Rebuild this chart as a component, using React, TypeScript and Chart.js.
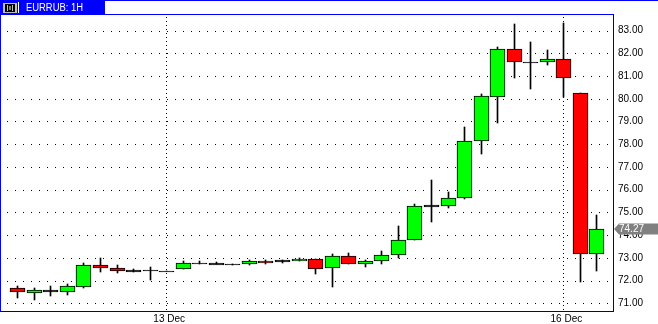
import React, { useEffect, useRef } from 'react';
import { Chart, registerables } from 'chart.js';

Chart.register(...registerables);

// Hourly candles, EURRUB 1H
const opens = [
  71.66, 71.45, 71.48, 71.50, 71.71, 72.69, 72.55, 72.47, 72.40, 72.42,
  72.51, 72.78, 72.78, 72.72, 72.72, 72.86, 72.81, 72.85, 72.96, 72.57,
  73.09, 72.74, 72.87, 73.13, 73.78, 75.24, 75.28, 75.63, 78.13, 80.06,
  82.18, 81.60, 81.60, 81.74, 80.24, 73.19,
];
const highs = [
  71.75, 71.68, 71.74, 71.84, 72.79, 73.01, 72.70, 72.51, 72.61, 72.42,
  72.85, 72.85, 72.82, 72.74, 72.91, 72.91, 72.91, 72.99, 72.96, 73.17,
  73.22, 72.91, 73.32, 74.41, 75.36, 76.41, 75.88, 78.76, 80.20, 82.28,
  83.29, 82.50, 82.15, 83.34, 80.24, 74.87,
];
const lows = [
  71.25, 71.15, 71.31, 71.36, 71.66, 72.36, 72.32, 72.38, 72.04, 72.42,
  72.51, 72.72, 72.71, 72.67, 72.67, 72.74, 72.76, 72.84, 72.27, 71.73,
  72.74, 72.59, 72.74, 73.00, 73.78, 74.58, 75.19, 75.57, 77.57, 78.94,
  80.93, 80.44, 81.49, 80.09, 71.94, 72.43,
];
const closes = [
  71.48, 71.57, 71.57, 71.74, 72.69, 72.55, 72.42, 72.39, 72.48, 72.42,
  72.79, 72.78, 72.70, 72.72, 72.86, 72.76, 72.89, 72.97, 72.50, 73.09,
  72.74, 72.87, 73.13, 73.78, 75.26, 75.33, 75.65, 78.13, 80.10, 82.18,
  81.60, 81.60, 81.74, 80.90, 73.19, 74.27,
];

const xTickIndex = [9, 33];
const xTickLabels = ['13 Dec', '16 Dec'];
const yTickValues = [71, 72, 73, 74, 75, 76, 77, 78, 79, 80, 81, 82, 83];
const titleText = 'EURRUB: 1H';
const lastPrice = 74.27;

const BULL = '#00FF00';
const BEAR = '#FF0000';
const FONT = "'Liberation Sans', Arial, sans-serif";

export default function App() {
  const ref = useRef<HTMLCanvasElement>(null);

  useEffect(() => {
    const canvas = ref.current;
    if (!canvas) return;
    const idx = opens.map((_, i) => i);
    const bodyData = idx.map((i) => ({ x: i, y: [opens[i], closes[i]] }));
    const wickData = idx.map((i) => ({ x: i, y: [lows[i], highs[i]] }));
    const bodyColors = idx.map((i) =>
      Math.abs(closes[i] - opens[i]) < 0.095 ? '#000000' : closes[i] >= opens[i] ? BULL : BEAR
    );

    const snapPlugin = {
      id: 'snap',
      beforeDatasetsDraw(chart: any) {
        chart.getDatasetMeta(0).data.forEach((el: any) => {
          el.x = Math.round(el.x) + 0.5;
          const y = Math.round(el.y);
          let b = Math.round(el.base);
          if (y === b) b = y + 1;
          el.y = y;
          el.base = b;
        });
        chart.getDatasetMeta(1).data.forEach((el: any) => {
          el.x = Math.round(el.x) + 0.5;
          el.y = Math.round(el.y);
          el.base = Math.round(el.base);
        });
      },
    };

    const gridPlugin = {
      id: 'dotgrid',
      beforeDatasetsDraw(chart: any) {
        const { ctx, chartArea: a, scales } = chart;
        ctx.save();
        ctx.fillStyle = '#000';
        yTickValues.forEach((v) => {
          const py = Math.round(scales.y.getPixelForValue(v));
          for (let x = a.left + 6; x < a.right - 1; x += 8) ctx.fillRect(x, py, 1, 1);
        });
        xTickIndex.forEach((v) => {
          const px = Math.round(scales.x.getPixelForValue(v));
          for (let y = a.top + 3; y < a.bottom; y += 4) ctx.fillRect(px, y, 1, 1);
        });
        ctx.restore();
      },
    };

    const framePlugin = {
      id: 'frame',
      afterDraw(chart: any) {
        const { ctx, chartArea: a, scales, width } = chart;
        const L = Math.round(a.left);
        const T = Math.round(a.top);
        const R = Math.round(a.right);
        const B = Math.round(a.bottom);
        ctx.save();
        ctx.fillStyle = '#0000FF';
        ctx.fillRect(L - 1, T, R - L + 1, 1);
        ctx.fillRect(L - 1, T, 1, B - T);
        ctx.fillStyle = '#00008B';
        ctx.fillRect(R, T, 1, B - T + 1);
        ctx.fillRect(L - 1, B, R - L + 2, 1);
        ctx.fillStyle = '#0000FF';
        ctx.fillRect(0, 0, width, 1);
        ctx.fillRect(0, 0, 105, 14);
        ctx.fillStyle = '#C0C0C0';
        ctx.fillRect(3, 3, 14, 10);
        ctx.fillStyle = '#000';
        ctx.fillRect(5, 4, 10, 8);
        ctx.fillStyle = '#C0C0C0';
        ctx.fillRect(7, 5, 6, 6);
        ctx.fillStyle = '#000';
        ctx.fillRect(8, 5, 4, 6);
        ctx.fillStyle = '#808080';
        ctx.fillRect(9, 6, 2, 4);
        ctx.fillStyle = '#FFFFFF';
        ctx.fillRect(18, 2, 1, 11);
        ctx.font = `10px ${FONT}`;
        ctx.textBaseline = 'alphabetic';
        ctx.textAlign = 'left';
        ctx.fillText(titleText, 26, 11, 57);
        const py = scales.y.getPixelForValue(lastPrice);
        ctx.fillStyle = '#808080';
        ctx.beginPath();
        ctx.moveTo(R + 1, py);
        ctx.lineTo(R + 6, py - 5.5);
        ctx.lineTo(width, py - 5.5);
        ctx.lineTo(width, py + 5.5);
        ctx.lineTo(R + 6, py + 5.5);
        ctx.closePath();
        ctx.fill();
        ctx.fillStyle = '#FFFFFF';
        ctx.textBaseline = 'middle';
        ctx.fillText(lastPrice.toFixed(2), R + 6, py + 0.5);
        ctx.restore();
      },
    };

    const chart = new Chart(canvas, {
      type: 'bar',
      data: {
        datasets: [
          {
            data: bodyData as any,
            backgroundColor: bodyColors,
            borderColor: '#000',
            borderWidth: 1,
            borderSkipped: false,
            barThickness: 15,
            grouped: false,
            order: 0,
          } as any,
          {
            data: wickData as any,
            backgroundColor: '#000',
            borderWidth: 0,
            barThickness: 1,
            grouped: false,
            order: 1,
          } as any,
        ],
      },
      options: {
        responsive: false,
        animation: false,
        events: [],
        layout: { padding: { left: 1, top: 14, right: 0, bottom: 0 } },
        plugins: { legend: { display: false }, tooltip: { enabled: false } },
        scales: {
          x: {
            type: 'linear',
            min: -0.98,
            max: 36,
            offset: false,
            grid: { display: false, drawTicks: false },
            border: { display: false },
            afterBuildTicks: (s: any) => {
              s.ticks = xTickIndex.map((v) => ({ value: v }));
            },
            afterFit: (s: any) => {
              s.height = 13;
            },
            ticks: {
              autoSkip: false,
              maxRotation: 0,
              padding: 2,
              labelOffset: 3,
              color: '#000',
              font: { size: 10, family: FONT },
              callback: (v: any) => {
                const k = xTickIndex.indexOf(Number(v));
                return k >= 0 ? xTickLabels[k] : '';
              },
            },
          },
          y: {
            type: 'linear',
            position: 'right',
            min: 70.66,
            max: 83.73,
            grid: { display: false, drawTicks: false },
            border: { display: false },
            afterBuildTicks: (s: any) => {
              s.ticks = yTickValues.map((v) => ({ value: v }));
            },
            afterFit: (s: any) => {
              s.width = 45;
            },
            ticks: {
              padding: 5,
              color: '#000',
              font: { size: 10, family: FONT },
              callback: (v: any) => Number(v).toFixed(2),
            },
          },
        },
      } as any,
      plugins: [snapPlugin, gridPlugin, framePlugin],
    });

    return () => chart.destroy();
  }, []);

  return (
    <div style={{ position: 'absolute', left: 0, top: 0, width: 658, height: 324, background: '#fff' }}>
      <canvas ref={ref} width={658} height={324} style={{ display: 'block' }} />
    </div>
  );
}
